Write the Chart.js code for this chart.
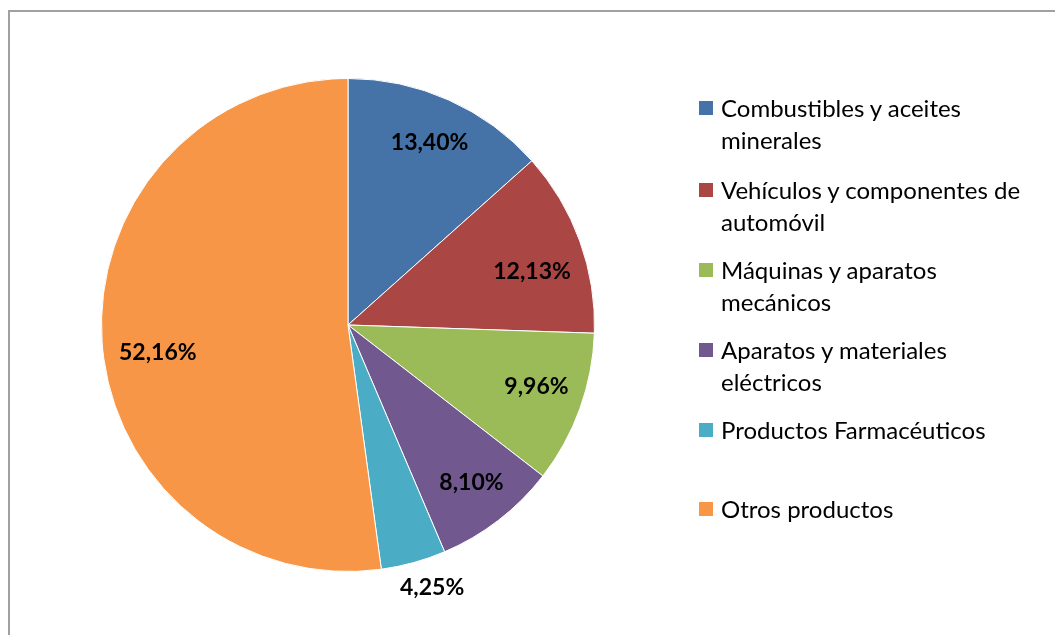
<!DOCTYPE html>
<html>
<head>
<meta charset="utf-8">
<script src="https://cdn.jsdelivr.net/npm/chart.js@4/dist/chart.umd.min.js"></script>
<style>
  html, body { margin: 0; padding: 0; background: #fff; width: 1055px; height: 635px; overflow: hidden; }
  #marco { position: absolute; left: 8px; top: 10px; width: 1100px; height: 700px; border: 2px solid #a0a0a0; box-sizing: border-box; }
  #wrap { position: absolute; left: 0; top: 0; width: 1055px; height: 635px; }
  #leyenda { position: absolute; left: 699px; top: 92px; font-family: Lato, "Open Sans", sans-serif; font-size: 24px; line-height: 32px; color: #000; }
  .item { position: absolute; left: 0; white-space: nowrap; }
  .caja { position: absolute; left: 0; top: 9px; width: 14px; height: 14px; }
  .txt { position: absolute; left: 22px; top: 0; }
</style>
</head>
<body>
<div id="marco"></div>
<div id="wrap"><canvas id="tarta" width="1055" height="635"></canvas></div>
<div id="leyenda"></div>
<script>
// datos
const categorias = [
  ['Combustibles y aceites', 'minerales'],
  ['Vehículos y componentes de', 'automóvil'],
  ['Máquinas y aparatos', 'mecánicos'],
  ['Aparatos y materiales', 'eléctricos'],
  ['Productos Farmacéuticos'],
  ['Otros productos']
];
const porcentajes = [13.40, 12.13, 9.96, 8.10, 4.25, 52.16];
const colores = ['#4572A7', '#AA4643', '#9BBB59', '#71588F', '#4BACC6', '#F79646'];

// etiquetas de porcentaje dentro / fuera del sector
const etiquetasPlugin = {
  id: 'etiquetas',
  afterDatasetsDraw(chart, args, opts) {
    const ctx = chart.ctx;
    const meta = chart.getDatasetMeta(0);
    ctx.save();
    ctx.font = 'bold 23px Lato, "Open Sans", sans-serif';
    ctx.fillStyle = '#000';
    ctx.textAlign = 'center';
    ctx.textBaseline = 'middle';
    meta.data.forEach((arc, i) => {
      const p = arc.getProps(['x', 'y', 'startAngle', 'endAngle', 'outerRadius']);
      const ang = (p.startAngle + p.endAngle) / 2;
      const f = opts.factores[i];
      const d = opts.ajustes[i];
      const x = p.x + Math.cos(ang) * p.outerRadius * f + d[0];
      const y = p.y + Math.sin(ang) * p.outerRadius * f + d[1];
      const txt = porcentajes[i].toFixed(2).replace('.', ',') + '%';
      ctx.fillText(txt, x, y);
    });
    ctx.restore();
  }
};

new Chart(document.getElementById('tarta'), {
  type: 'pie',
  data: {
    labels: categorias.map(c => c.join(' ')),
    datasets: [{
      data: porcentajes,
      backgroundColor: colores,
      borderColor: '#ffffff',
      borderWidth: 1
    }]
  },
  options: {
    responsive: false,
    animation: false,
    layout: { padding: { left: 101, right: 460, top: 78, bottom: 63 } },
    plugins: {
      legend: { display: false },
      tooltip: { enabled: false },
      etiquetas: {
        factores: [0.81, 0.79, 0.8, 0.82, 1.1, 0.81],
        ajustes: [[0, 0], [1, 13], [3, -5], [0, -2], [12, 1], [9, 14]]
      }
    }
  },
  plugins: [etiquetasPlugin]
});

// leyenda a la derecha
const tops = [0, 82, 162, 242, 322, 401];
const leyenda = document.getElementById('leyenda');
categorias.forEach((c, i) => {
  const it = document.createElement('div');
  it.className = 'item';
  it.style.top = tops[i] + 'px';
  it.innerHTML = '<div class="caja" style="background:' + colores[i] + '"></div><div class="txt">' + c.join('<br>') + '</div>';
  leyenda.appendChild(it);
});
</script>
</body>
</html>
